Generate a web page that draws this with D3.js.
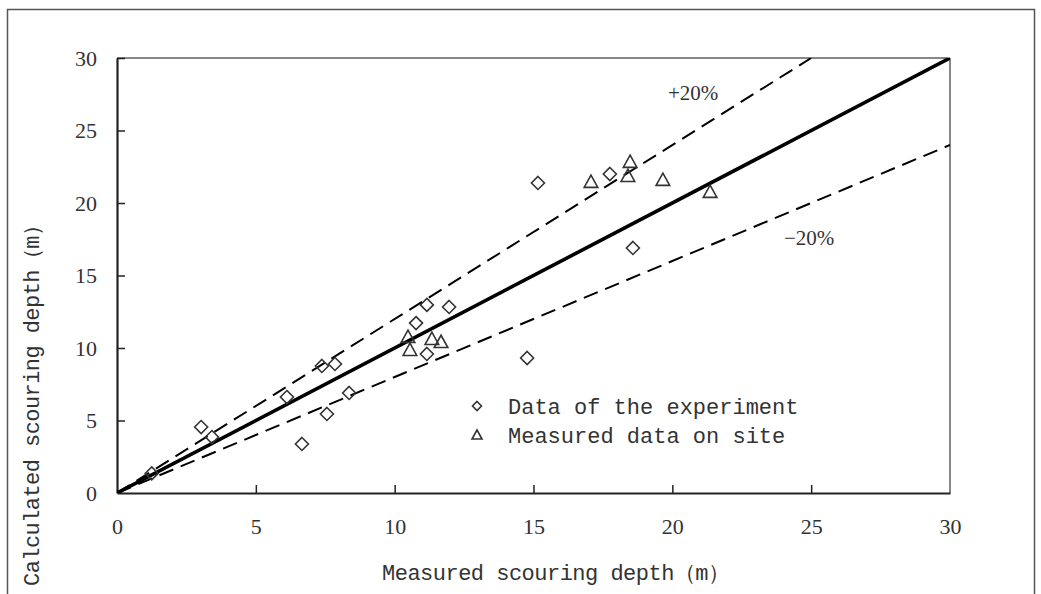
<!DOCTYPE html>
<html>
<head>
<meta charset="utf-8">
<script src="https://cdn.jsdelivr.net/npm/d3@7"></script>
<style>
  body { margin: 0; background: #fff; overflow: hidden; }
  svg { display: block; }
</style>
</head>
<body>
<section></section>
<script>

// data

const expX = [1.25, 3.03, 3.42, 6.12, 6.66, 7.38, 7.56, 7.85, 8.36, 10.77, 11.16, 11.96, 11.16, 14.77, 15.16, 17.75, 18.58];
const expY = [1.35, 4.55, 3.86, 6.62, 3.38, 8.76, 5.45, 8.90, 6.90, 11.72, 12.97, 12.83, 9.59, 9.31, 21.38, 22.0, 16.9];

const siteX = [10.48, 10.55, 11.34, 11.67, 17.07, 18.48, 18.40, 19.66, 21.36];
const siteY = [10.76, 9.86, 10.62, 10.41, 21.45, 22.83, 21.86, 21.59, 20.76];

const ticks = [0, 5, 10, 15, 20, 25, 30];
const ratios = [1, 1.2, 0.8];
const ratioLabels = ['', '+20%', '\u221220%'];
const legendNames = ['Data of the experiment', 'Measured data on site'];

const xTitle = 'Measured scouring depth\uFF08m\uFF09';
const yTitle = 'Calculated scouring depth\uFF08m\uFF09';


const w = 1041;
const h = 594;

const svg = d3.select('section').append('svg').attr('width', w).attr('height', h);

// outer frame, runs off the bottom
svg.append('rect')
    .attr('x', 7.5).attr('y', 9.5)
    .attr('width', 1027).attr('height', 700)
    .attr('fill', 'none').attr('stroke', '#555').attr('stroke-width', 1.5);


// scales

const xScale = d3.scaleLinear().domain([0, 30]).range([117, 950]);
const yScale = d3.scaleLinear().domain([0, 30]).range([493, 58]);

const numFont = '"Liberation Serif", "Times New Roman", serif';
const monoFont = '"Liberation Mono", "Courier New", monospace';


// plot box: top and right grey, left and bottom black

svg.append('line')
    .attr('x1', xScale(0)).attr('x2', xScale(30))
    .attr('y1', yScale(30)).attr('y2', yScale(30))
    .attr('stroke', '#888').attr('stroke-width', 2);

svg.append('line')
    .attr('x1', xScale(30)).attr('x2', xScale(30))
    .attr('y1', yScale(30)).attr('y2', yScale(0))
    .attr('stroke', '#888').attr('stroke-width', 2);


// axes

const xAxis = d3.axisBottom(xScale).tickValues(ticks).tickSizeInner(-8).tickSizeOuter(0).tickPadding(20);
const yAxis = d3.axisLeft(yScale).tickValues(ticks).tickSizeInner(-8).tickSizeOuter(0).tickPadding(20);

const gx = svg.append('g').attr('transform', `translate(0,${yScale(0)})`).call(xAxis);
const gy = svg.append('g').attr('transform', `translate(${xScale(0)},0)`).call(yAxis);

[gx, gy].forEach(g => {
    g.select('.domain').attr('stroke', '#222').attr('stroke-width', 2.2);
    g.selectAll('.tick line').attr('stroke', '#222').attr('stroke-width', 1.5);
    g.selectAll('.tick text')
        .attr('fill', '#333')
        .style('font-family', numFont)
        .style('font-size', '22px');
});

gx.selectAll('.tick text').attr('dy', '0.95em');
gy.selectAll('.tick text').attr('x', -20).attr('dy', '0.33em');

// ticks on the corners are hidden by the box
gx.selectAll('.tick line').filter(d => d === 0 || d === 30).remove();
gy.selectAll('.tick line').filter(d => d === 0).remove();


// axis titles

svg.append('text')
    .attr('x', 556).attr('y', 580)
    .attr('text-anchor', 'middle')
    .attr('fill', '#333')
    .style('font-family', monoFont)
    .style('font-size', '22px')
    .attr('textLength', 348)
    .text(xTitle);

svg.append('text')
    .attr('transform', `translate(39,${400}) rotate(-90)`)
    .attr('text-anchor', 'middle')
    .attr('fill', '#333')
    .style('font-family', monoFont)
    .style('font-size', '22px')
    .attr('textLength', 372)
    .text(yTitle);


// reference lines y = k x, clipped to the plot

svg.append('clipPath').attr('id', 'plot')
    .append('rect')
    .attr('x', xScale(0)).attr('y', yScale(30))
    .attr('width', xScale(30) - xScale(0)).attr('height', yScale(0) - yScale(30));

const lines = svg.append('g').attr('clip-path', 'url(#plot)');

lines.selectAll('line').data(ratios).enter().append('line')
    .attr('x1', xScale(0)).attr('y1', yScale(0))
    .attr('x2', k => xScale(Math.min(30, 30 / k)))
    .attr('y2', k => yScale(Math.min(30, 30 * k)))
    .attr('stroke', '#000')
    .attr('stroke-width', k => k === 1 ? 3.6 : 2)
    .attr('stroke-dasharray', k => k === 1 ? null : '15,8');

svg.append('text')
    .attr('x', 668).attr('y', 100)
    .attr('fill', '#333')
    .style('font-family', numFont)
    .style('font-size', '21px')
    .text(ratioLabels[1]);

svg.append('text')
    .attr('x', 784).attr('y', 245)
    .attr('fill', '#333')
    .style('font-family', numFont)
    .style('font-size', '21px')
    .text(ratioLabels[2]);


// markers

const diamond = s => `M0,${-s}L${s},0L0,${s}L${-s},0Z`;
const triangle = s => `M0,${-s}L${s},${s * 0.8}L${-s},${s * 0.8}Z`;

const marks = svg.append('g');

marks.selectAll('.exp').data(expX).enter().append('path')
    .attr('class', 'exp')
    .attr('transform', (d, i) => `translate(${xScale(d)},${yScale(expY[i])})`)
    .attr('d', diamond(6.5))
    .attr('fill', 'none').attr('stroke', '#333').attr('stroke-width', 1.6);

marks.selectAll('.site').data(siteX).enter().append('path')
    .attr('class', 'site')
    .attr('transform', (d, i) => `translate(${xScale(d)},${yScale(siteY[i])})`)
    .attr('d', triangle(6.8))
    .attr('fill', 'none').attr('stroke', '#333').attr('stroke-width', 1.6);


// legend

const legend = svg.append('g').attr('transform', 'translate(477,406)');

legend.selectAll('path').data(legendNames).enter().append('path')
    .attr('transform', (d, i) => `translate(0,${i * 29})`)
    .attr('d', (d, i) => i === 0 ? diamond(4.5) : triangle(5))
    .attr('fill', 'none').attr('stroke', '#333').attr('stroke-width', 1.6);

legend.selectAll('text').data(legendNames).enter().append('text')
    .attr('x', 31).attr('y', (d, i) => i * 29)
    .attr('dy', '0.35em')
    .attr('fill', '#333')
    .style('font-family', monoFont)
    .style('font-size', '22px')
    .text(d => d);

</script>
</body>
</html>
